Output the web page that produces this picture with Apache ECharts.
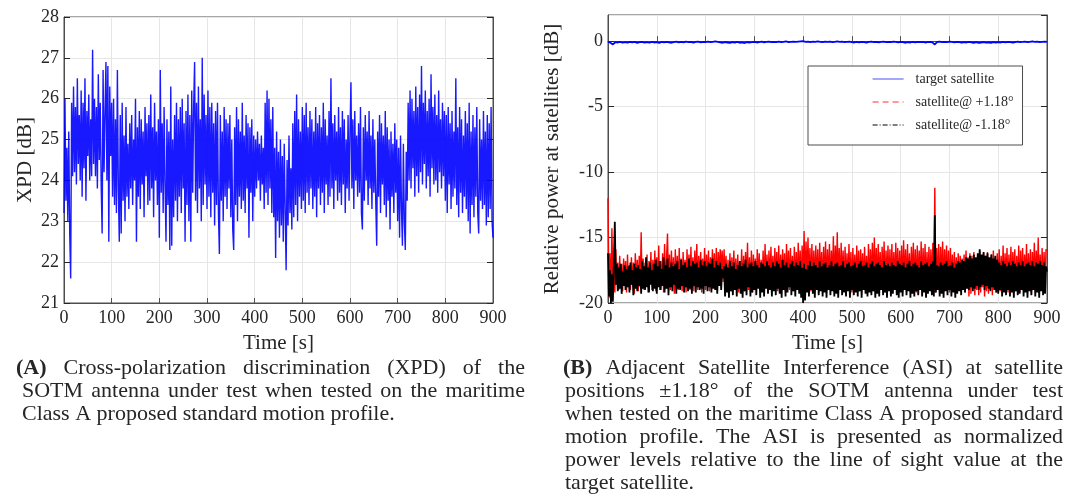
<!DOCTYPE html>
<html><head><meta charset="utf-8">
<script src="https://cdn.jsdelivr.net/npm/echarts@6/dist/echarts.min.js"></script>
<style>html,body{margin:0;padding:0;background:#fff}#c{width:1070px;height:500px}</style>
</head><body><div id="c"></div>
<script>
// ---------- DATA ----------
const xpdStep = 2; // seconds between samples
const xpd = [
23.2,26.0,23.5,24.8,23.0,25.2,22.7,21.6,25.9,24.1,
26.3,24.2,25.8,23.9,26.5,24.4,25.6,24.0,26.2,23.6,
25.9,24.3,26.5,23.5,25.7,24.6,26.1,24.0,25.5,24.1,
27.2,24.4,26.0,24.1,25.8,23.8,26.6,24.5,25.9,23.9,
22.7,26.7,24.2,25.6,26.9,24.0,26.8,22.5,26.3,24.6,
25.9,23.6,26.0,23.4,25.5,23.2,26.7,23.8,22.5,25.6,
22.7,25.9,23.5,25.1,23.0,25.8,23.6,24.9,23.3,25.4,
23.8,25.6,23.4,25.0,24.0,26.0,22.5,25.3,23.6,25.7,
23.3,25.5,23.9,25.2,23.1,25.8,24.1,25.4,23.4,25.6,
23.5,26.1,23.8,25.3,23.1,25.9,24.0,25.2,23.4,25.5,
22.6,26.7,23.7,25.4,23.2,25.8,23.9,22.5,25.5,23.4,
25.2,22.3,26.3,22.4,25.0,23.1,25.6,23.5,25.9,23.0,
25.5,23.6,25.8,23.2,26.0,23.8,25.4,22.5,25.7,23.4,
26.1,23.0,25.6,22.5,26.2,23.7,25.8,26.9,23.5,25.9,
23.2,26.3,23.8,25.5,23.0,27.0,23.4,26.1,23.9,25.6,
23.3,26.2,23.6,25.8,23.1,25.9,23.7,25.4,22.9,25.7,
23.4,25.9,23.2,22.2,25.6,23.5,25.2,23.0,25.8,23.6,
25.5,23.3,25.4,23.8,25.6,23.1,25.0,22.8,22.3,25.3,
23.4,25.8,23.0,25.5,23.6,25.2,23.3,25.9,23.5,25.1,
23.2,25.6,23.8,25.4,22.6,25.3,23.7,25.5,23.0,25.1,
23.6,25.0,23.8,25.2,24.0,24.9,23.5,25.1,23.9,24.8,
23.3,25.9,23.7,26.2,23.4,26.0,23.8,25.5,23.2,25.8,
23.1,24.8,22.1,25.2,23.0,24.7,22.6,25.0,22.9,24.6,
22.5,24.9,23.3,21.8,24.5,22.9,25.1,23.2,24.3,22.8,
25.4,23.1,25.7,23.4,26.1,23.0,25.5,23.6,25.2,23.3,
25.8,23.5,25.6,23.2,25.9,23.7,25.3,23.4,25.7,23.8,
25.5,23.3,25.2,23.6,25.8,23.1,25.4,23.8,25.6,23.4,
25.3,23.7,25.9,23.2,25.5,23.9,25.1,23.4,25.7,23.6,
26.5,23.8,25.4,23.3,25.6,24.0,25.2,23.5,25.8,23.7,
25.3,23.4,25.7,23.9,25.5,23.2,25.0,23.8,25.6,23.5,
25.2,26.4,23.8,25.5,23.3,25.7,24.0,25.1,23.6,25.4,
23.7,25.8,23.2,22.8,25.3,23.5,25.6,24.0,25.2,23.4,
25.7,23.8,25.1,23.3,25.5,23.7,25.0,23.5,22.4,25.2,
23.6,25.6,23.2,25.4,23.9,25.1,23.4,25.7,23.1,25.3,
23.5,25.0,22.8,25.2,23.6,24.9,23.2,25.4,23.7,25.0,
23.0,24.8,22.6,25.1,23.3,22.4,24.9,23.0,22.3,24.7,
23.5,25.9,24.0,26.2,23.8,26.0,24.3,25.7,23.6,26.3,
24.1,25.8,23.7,26.1,24.2,26.8,23.9,25.9,24.4,26.2,
23.8,25.7,24.1,26.0,23.6,26.6,24.3,25.8,23.9,26.1,
24.0,25.6,23.7,26.2,24.2,25.5,23.8,25.9,24.1,25.7,
23.5,25.6,23.2,25.8,23.9,25.4,23.3,25.7,23.6,25.2,
23.8,26.5,23.4,25.3,23.1,25.8,23.7,25.5,23.2,25.1,
23.6,25.7,23.3,25.4,23.0,25.9,22.7,25.2,23.4,25.6,
23.1,25.3,23.6,25.8,23.2,22.7,25.5,23.5,25.0,23.3,
25.7,23.4,25.2,22.9,25.6,23.1,25.4,23.3,25.8,23.0,
22.6
];

const targetStep = 5;
const targetSat = [
-0.05,-0.12,-0.25,-0.08,-0.10,-0.06,-0.12,-0.07,-0.11,-0.05,
-0.09,-0.06,-0.13,-0.08,-0.05,-0.11,-0.07,-0.12,-0.06,-0.10,
-0.08,-0.14,-0.06,-0.10,-0.05,-0.09,-0.12,-0.07,-0.04,-0.10,
-0.06,-0.09,-0.03,-0.08,-0.05,-0.11,-0.06,-0.04,-0.09,-0.05,
-0.07,-0.03,-0.08,-0.05,-0.02,-0.06,-0.09,-0.12,-0.07,-0.10,
-0.13,-0.08,-0.11,-0.06,-0.12,-0.09,-0.14,-0.07,-0.10,-0.08,
-0.05,-0.10,-0.07,-0.04,-0.09,-0.06,-0.03,-0.08,-0.05,-0.07,
-0.04,-0.08,-0.06,-0.02,-0.07,-0.05,-0.03,-0.06,-0.04,-0.02,
0.00,-0.05,-0.03,-0.07,-0.04,-0.06,-0.02,-0.05,-0.08,-0.04,
-0.06,-0.03,-0.07,-0.05,-0.02,-0.06,-0.04,-0.08,-0.05,-0.03,
-0.07,-0.10,-0.06,-0.09,-0.05,-0.08,-0.11,-0.06,-0.04,-0.08,
-0.05,-0.09,-0.06,-0.03,-0.07,-0.05,-0.08,-0.04,-0.06,-0.09,
-0.05,-0.08,-0.12,-0.07,-0.10,-0.06,-0.09,-0.05,-0.08,-0.06,
-0.10,-0.07,-0.05,-0.09,-0.25,-0.06,-0.04,-0.08,-0.05,-0.07,
-0.03,-0.06,-0.09,-0.05,-0.08,-0.11,-0.07,-0.10,-0.06,-0.09,
-0.12,-0.08,-0.13,-0.10,-0.07,-0.11,-0.09,-0.12,-0.08,-0.10,
-0.07,-0.10,-0.06,-0.09,-0.05,-0.08,-0.11,-0.07,-0.04,-0.08,
-0.06,-0.03,-0.07,-0.05,-0.02,-0.06,-0.04,-0.07,-0.05,-0.03,
-0.05
];

const asiStep = 2;
const satPlus = [
-12.0,-19.6,-16.2,-19.8,-14.3,-18.9,-16.8,-19.2,-15.9,-18.5,
-16.9,-19.0,-16.4,-18.7,-17.0,-19.1,-16.6,-18.4,-16.8,-19.2,
-16.3,-18.8,-17.1,-19.0,-16.5,-18.6,-16.9,-19.3,-16.2,-18.5,
-16.7,-19.1,-16.4,-18.8,-14.6,-18.9,-16.6,-19.0,-16.9,-18.7,
-16.3,-19.2,-16.8,-18.5,-16.1,-19.0,-16.7,-18.8,-16.0,-19.1,
-16.5,-18.7,-15.6,-19.0,-16.8,-18.6,-16.2,-19.2,-15.5,-18.9,
-16.6,-14.7,-18.8,-16.3,-19.0,-16.0,-18.7,-16.5,-19.3,-15.9,
-18.6,-16.4,-19.0,-15.8,-18.8,-16.6,-19.1,-16.1,-18.5,-16.7,
-19.2,-15.9,-18.7,-16.3,-19.0,-15.7,-18.9,-16.5,-19.1,-16.0,
-18.6,-15.5,-19.0,-16.4,-18.8,-16.1,-19.2,-16.6,-18.7,-15.8,
-19.0,-16.3,-18.6,-16.0,-19.1,-16.5,-18.9,-15.9,-18.4,-16.2,
-19.0,-15.8,-18.7,-16.1,-17.8,-15.9,-17.5,-16.0,-18.4,-15.9,
-18.2,-16.4,-19.0,-16.7,-18.8,-16.2,-19.1,-16.5,-18.6,-16.0,
-19.0,-16.6,-18.7,-16.3,-19.2,-16.8,-18.5,-15.9,-18.9,-16.4,
-19.1,-16.1,-18.6,-15.4,-19.0,-16.5,-18.8,-16.0,-19.2,-16.3,
-18.7,-16.6,-19.0,-15.9,-18.5,-16.2,-19.1,-16.7,-18.8,-16.0,
-19.0,-15.5,-18.6,-16.3,-19.2,-16.0,-18.9,-15.7,-18.7,-16.4,
-19.0,-15.8,-18.5,-16.1,-19.1,-15.6,-18.8,-16.3,-19.0,-15.9,
-18.6,-16.2,-19.2,-15.5,-18.7,-16.0,-19.0,-15.8,-18.5,-16.4,
-19.1,-15.7,-18.8,-16.1,-19.0,-15.4,-18.6,-16.0,-19.2,-15.6,
-18.4,-14.5,-19.0,-15.3,-18.5,-15.0,-18.8,-15.8,-19.1,-15.5,
-18.6,-16.0,-19.0,-15.6,-18.7,-15.9,-19.2,-15.4,-18.5,-16.1,
-19.0,-15.7,-18.8,-15.3,-19.1,-15.9,-18.6,-15.5,-19.0,-16.0,
-18.7,-14.9,-19.2,-15.6,-18.5,-14.6,-18.9,-15.8,-19.0,-15.4,
-18.6,-16.0,-19.1,-15.7,-18.8,-16.2,-19.0,-15.5,-18.7,-16.1,
-19.2,-15.8,-18.6,-16.3,-19.0,-15.6,-18.8,-16.0,-19.1,-15.9,
-18.5,-16.2,-19.0,-15.7,-18.7,-16.4,-19.2,-15.5,-18.9,-15.9,
-18.6,-15.4,-19.1,-15.0,-18.8,-15.8,-19.0,-15.5,-18.5,-16.1,
-19.0,-15.7,-18.7,-15.3,-19.2,-16.0,-18.6,-15.6,-18.9,-15.9,
-19.1,-15.5,-18.8,-16.1,-19.0,-15.4,-18.5,-15.8,-18.9,-16.0,
-18.7,-15.6,-19.2,-15.2,-18.6,-15.9,-19.0,-15.5,-18.8,-16.2,
-19.1,-15.7,-18.5,-15.4,-18.9,-15.9,-19.2,-15.6,-18.7,-16.0,
-18.6,-15.3,-19.0,-15.8,-18.8,-15.5,-19.1,-16.1,-18.5,-15.7,
-19.0,-15.9,-18.7,-15.4,-18.9,-11.2,-19.2,-15.8,-18.6,-15.5,
-19.0,-15.7,-18.8,-15.3,-19.1,-15.9,-18.5,-15.6,-18.9,-16.0,
-19.2,-15.8,-18.6,-16.3,-19.0,-16.1,-18.7,-16.5,-19.1,-16.2,
-18.8,-16.4,-19.0,-16.6,-18.5,-16.3,-19.2,-16.0,-18.9,-16.5,
-19.5,-16.2,-19.3,-16.4,-18.9,-16.1,-19.4,-16.6,-19.0,-16.3,
-19.4,-16.0,-19.2,-16.5,-18.8,-16.2,-19.5,-16.4,-19.1,-16.1,
-19.3,-16.6,-19.0,-16.3,-19.4,-16.0,-18.9,-16.5,-19.2,-16.2,
-18.7,-15.9,-19.1,-16.4,-18.8,-15.6,-19.0,-16.2,-18.6,-15.8,
-19.2,-16.3,-18.9,-15.7,-19.0,-16.1,-18.5,-15.9,-19.1,-16.4,
-18.8,-15.6,-19.2,-16.0,-18.7,-15.8,-19.0,-16.3,-18.6,-15.5,
-19.1,-16.2,-18.8,-15.9,-19.3,-16.1,-18.6,-15.4,-19.0,-16.0,
-18.7,-15.0,-19.2,-16.3,-18.9,-15.8,-19.1,-16.1,-18.6,-15.9,
-16.0
];

const satMinus = [
-16.2,-19.5,-17.5,-20.0,-17.8,-19.9,-16.9,-13.8,-18.6,-17.0,
-19.1,-17.3,-18.9,-17.0,-19.3,-17.6,-18.7,-17.1,-19.0,-17.4,
-18.8,-17.2,-19.2,-16.9,-18.6,-17.5,-19.4,-17.0,-18.9,-17.3,
-19.1,-17.1,-18.7,-17.4,-19.3,-16.8,-18.9,-17.2,-19.0,-16.5,
-18.8,-17.3,-19.2,-16.9,-18.6,-17.5,-19.1,-17.0,-18.9,-16.7,
-19.3,-17.2,-18.8,-16.8,-19.0,-17.4,-18.7,-16.5,-19.2,-17.1,
-18.9,-16.6,-19.4,-17.3,-18.8,-16.9,-19.1,-17.2,-18.6,-17.0,
-19.3,-16.8,-18.9,-17.4,-19.0,-16.7,-18.7,-17.1,-19.2,-16.9,
-18.8,-17.3,-19.1,-16.6,-18.9,-17.2,-19.3,-16.8,-18.7,-17.0,
-19.2,-16.9,-18.8,-17.3,-19.0,-16.7,-18.9,-17.1,-19.3,-16.8,
-18.7,-17.2,-19.1,-16.9,-18.8,-17.0,-19.2,-16.6,-18.9,-17.3,
-19.0,-16.8,-19.3,-17.1,-18.7,-16.9,-19.0,-17.4,-18.1,-17.2,
-19.5,-17.0,-19.2,-17.3,-19.6,-16.8,-19.1,-17.2,-19.4,-16.9,
-19.0,-17.4,-19.5,-17.1,-18.9,-16.8,-19.3,-17.2,-19.6,-17.0,
-19.1,-16.7,-19.4,-17.3,-18.8,-17.0,-19.5,-16.9,-19.2,-17.2,
-19.0,-16.8,-19.4,-17.1,-18.9,-17.3,-19.6,-16.9,-19.2,-17.0,
-19.5,-17.2,-18.9,-16.8,-19.3,-17.1,-19.0,-17.3,-19.5,-16.9,
-19.1,-17.2,-19.4,-16.8,-18.9,-17.0,-19.3,-17.3,-19.6,-16.7,
-19.0,-17.1,-19.5,-16.9,-19.2,-17.3,-18.8,-17.0,-19.4,-16.8,
-19.1,-17.2,-19.5,-16.9,-19.0,-17.1,-19.3,-16.8,-19.6,-17.3,
-20.0,-17.0,-19.8,-17.4,-19.2,-17.1,-19.5,-16.8,-19.0,-17.2,
-19.3,-16.9,-19.6,-17.1,-19.0,-17.3,-19.4,-16.8,-19.1,-17.2,
-19.5,-17.0,-19.2,-16.9,-19.6,-17.3,-19.0,-17.1,-19.4,-16.8,
-19.1,-17.2,-19.5,-17.0,-19.3,-16.9,-19.6,-17.2,-19.0,-17.1,
-19.4,-16.8,-19.2,-17.3,-19.5,-17.0,-19.1,-16.9,-19.6,-17.2,
-19.0,-17.1,-19.4,-16.9,-19.2,-17.3,-19.5,-17.0,-19.1,-16.8,
-19.6,-17.2,-19.0,-17.1,-19.3,-16.9,-19.5,-17.3,-19.2,-17.0,
-19.4,-16.8,-19.1,-17.2,-19.6,-17.0,-19.3,-16.9,-19.5,-17.1,
-19.0,-17.3,-19.4,-16.8,-19.2,-17.1,-19.6,-17.0,-19.1,-17.2,
-19.5,-16.9,-19.3,-17.1,-19.0,-17.2,-19.4,-16.8,-19.6,-17.0,
-19.2,-17.1,-19.5,-16.9,-19.0,-17.3,-19.4,-17.0,-19.1,-16.8,
-19.6,-17.2,-19.3,-17.0,-19.5,-16.9,-19.1,-17.1,-19.4,-17.3,
-19.0,-16.8,-19.5,-17.1,-19.2,-17.0,-19.6,-16.9,-19.3,-17.2,
-19.1,-17.0,-19.4,-16.8,-19.5,-13.3,-19.2,-17.1,-19.0,-17.2,
-19.5,-16.9,-19.3,-17.1,-19.6,-17.0,-19.1,-16.8,-19.4,-17.2,
-19.0,-17.1,-19.5,-16.9,-19.2,-17.3,-19.6,-17.0,-19.3,-16.8,
-19.1,-16.9,-19.4,-16.7,-19.0,-16.8,-19.2,-16.5,-18.9,-16.6,
-19.0,-16.4,-18.8,-16.6,-19.1,-16.3,-18.9,-16.5,-18.7,-16.2,
-19.0,-15.9,-18.8,-16.3,-18.6,-16.1,-19.0,-16.4,-18.7,-16.2,
-18.9,-16.5,-19.1,-16.3,-18.8,-16.6,-19.0,-16.4,-19.2,-16.7,
-19.3,-16.9,-19.0,-17.1,-19.5,-16.8,-19.2,-17.0,-19.4,-17.2,
-19.0,-16.9,-19.5,-17.1,-19.2,-16.8,-19.6,-17.0,-19.1,-17.2,
-19.4,-16.9,-19.3,-17.1,-19.0,-16.8,-19.5,-17.2,-19.2,-17.0,
-19.6,-16.9,-19.1,-17.1,-19.4,-16.8,-19.0,-17.2,-19.5,-16.9,
-19.2,-17.0,-19.6,-16.8,-19.1,-17.1,-19.4,-16.9,-19.3,-17.2,
-17.6
];

const seriesNames = ['target satellite', 'satellite@ +1.18°', 'satellite@ -1.18°'];
const xAxisTitle = 'Time [s]';
const leftYTitle = 'XPD [dB]';
const rightYTitle = 'Relative power at satellites [dB]';

const captionAFirst = ['(A)', 'Cross-polarization discrimination (XPD) of the'];
const captionA = ['SOTM antenna under test when tested on the maritime'];
const captionALast = 'Class A proposed standard motion profile.';
const captionBFirst = ['(B)', 'Adjacent Satellite Interference (ASI) at satellite'];
const captionB = [
  'positions ±1.18° of the SOTM antenna under test',
  'when tested on the maritime Class A proposed standard',
  'motion profile. The ASI is presented as normalized',
  'power levels relative to the line of sight value at the'
];
const captionBLast = 'target satellite.';

// ---------- BUILD ----------
const SERIF = "'Liberation Serif','Times New Roman',serif";
const toPairs = (arr, step) => arr.map((v, i) => [i * step, v]);

const chart = echarts.init(document.getElementById('c'), null, {renderer: 'canvas'});

const gridLineColor = '#e6e6e6';
const TXT = '#262626';
const labelStyle = {fontFamily: SERIF, fontSize: 18, color: TXT};
function xAxisCfg(idx) {
  return {
    type: 'value', gridIndex: idx, min: 0, max: 900, interval: 100,
    name: xAxisTitle, nameLocation: 'middle', nameGap: 30,
    nameTextStyle: {fontFamily: SERIF, fontSize: 21, color: TXT},
    axisLine: {show: true, lineStyle: {color: '#4d4d4d'}},
    axisTick: {show: true, inside: true, length: 5, lineStyle: {color: '#4d4d4d'}},
    axisLabel: Object.assign({margin: 6}, labelStyle),
    splitLine: {show: true, lineStyle: {color: gridLineColor}}
  };
}
function yAxisCfg(idx, min, max, interval, name, nameGap, pos) {
  const main = pos === 'left';
  return {
    type: 'value', gridIndex: idx, min, max, interval, position: pos,
    name: main ? name : '', nameLocation: 'middle', nameGap,
    nameTextStyle: {fontFamily: SERIF, fontSize: 21, color: TXT},
    axisLine: {show: true, lineStyle: {color: '#4d4d4d'}},
    axisTick: {show: true, inside: true, length: 6, lineStyle: {color: TXT}},
    axisLabel: Object.assign({show: main, margin: 5, showMaxLabel: idx === 0}, labelStyle),
    splitLine: {show: main, lineStyle: {color: gridLineColor}}
  };
}

// caption layout (justified words measured with canvas)
const mctx = document.createElement('canvas').getContext('2d');
const CAP_SIZE = 22;
function measure(text, bold) {
  mctx.font = (bold ? 'bold ' : '') + CAP_SIZE + 'px ' + SERIF;
  return mctx.measureText(text).width;
}
const graphics = [];
function placeLine(words, boldFirst, x0, x1, y, justify) {
  const widths = words.map((w, i) => measure(w, boldFirst && i === 0));
  const total = widths.reduce((a, b) => a + b, 0);
  const gap = justify && words.length > 1 ? (x1 - x0 - total) / (words.length - 1) : measure(' ', false);
  let x = x0;
  words.forEach((w, i) => {
    graphics.push({
      type: 'text', x: x, y: y, silent: true,
      style: {text: w, fontFamily: SERIF, fontSize: CAP_SIZE,
              fontWeight: (boldFirst && i === 0) ? 'bold' : 'normal',
              fill: TXT, verticalAlign: 'middle', align: 'left'}
    });
    x += widths[i] + gap;
  });
}
const LH = 23, CY = 368;
placeLine([captionAFirst[0]].concat(captionAFirst[1].split(' ')), true, 16, 525, CY, true);
captionA.forEach((l, i) => placeLine(l.split(' '), false, 22, 525, CY + LH * (i + 1), true));
placeLine(captionALast.split(' '), false, 22, 525, CY + LH * 2, false);
placeLine([captionBFirst[0]].concat(captionBFirst[1].split(' ')), true, 563, 1063, CY, true);
captionB.forEach((l, i) => placeLine(l.split(' '), false, 565, 1063, CY + LH * (i + 1), true));
placeLine(captionBLast.split(' '), false, 565, 1063, CY + LH * 5, false);

const option = {
  animation: false,
  backgroundColor: '#ffffff',
  grid: [
    {left: 64, right: 577, top: 17, bottom: 197, show: true, borderColor: '#4d4d4d', borderWidth: 1},
    {left: 608, right: 23, top: 15, bottom: 197, show: true, borderColor: '#4d4d4d', borderWidth: 1}
  ],
  xAxis: [xAxisCfg(0), xAxisCfg(1)],
  yAxis: [
    yAxisCfg(0, 21, 28, 1, leftYTitle, 28, 'left'),
    yAxisCfg(0, 21, 28, 1, '', 0, 'right'),
    yAxisCfg(1, -20, 2, 5, rightYTitle, 45, 'left'),
    yAxisCfg(1, -20, 2, 5, '', 0, 'right')
  ],
  legend: {
    orient: 'vertical', left: 808, top: 66,
    padding: [6, 9, 13, 64], itemGap: 9, itemWidth: 31, itemHeight: 14,
    backgroundColor: '#ffffff', borderColor: '#4d4d4d', borderWidth: 1,
    textStyle: {fontFamily: SERIF, fontSize: 14, color: TXT, padding: [0, 0, 0, 7]},
    data: [
      {name: seriesNames[0], itemStyle: {opacity: 0}, lineStyle: {color: '#6a6aff', width: 1.2, type: 'solid'}},
      {name: seriesNames[1], itemStyle: {opacity: 0}, lineStyle: {color: '#ff3030', width: 1.2, type: [6, 4]}},
      {name: seriesNames[2], itemStyle: {opacity: 0}, lineStyle: {color: '#000', width: 1.2, type: [5, 2, 1, 2]}}
    ]
  },
  series: [
    {name: 'XPD', type: 'line', xAxisIndex: 0, yAxisIndex: 0, data: toPairs(xpd, xpdStep),
     symbol: 'none', showSymbol: false,
     lineStyle: {color: '#0000ff', width: 1.4, opacity: 0.9}},
    {name: seriesNames[1], type: 'line', xAxisIndex: 1, yAxisIndex: 2, data: toPairs(satPlus, asiStep),
     symbol: 'none', showSymbol: false, color: '#ff0000',
     lineStyle: {color: '#ff0000', width: 1.4}},
    {name: seriesNames[2], type: 'line', xAxisIndex: 1, yAxisIndex: 2, data: toPairs(satMinus, asiStep),
     symbol: 'none', showSymbol: false, color: '#000000',
     lineStyle: {color: '#000000', width: 1.8}},
    {name: seriesNames[0], type: 'line', xAxisIndex: 1, yAxisIndex: 2, data: toPairs(targetSat, targetStep),
     symbol: 'none', showSymbol: false, color: '#0000ff',
     lineStyle: {color: '#0000ff', width: 1.8}}
  ],
  graphic: graphics
};
chart.setOption(option);
</script>
</body></html>
